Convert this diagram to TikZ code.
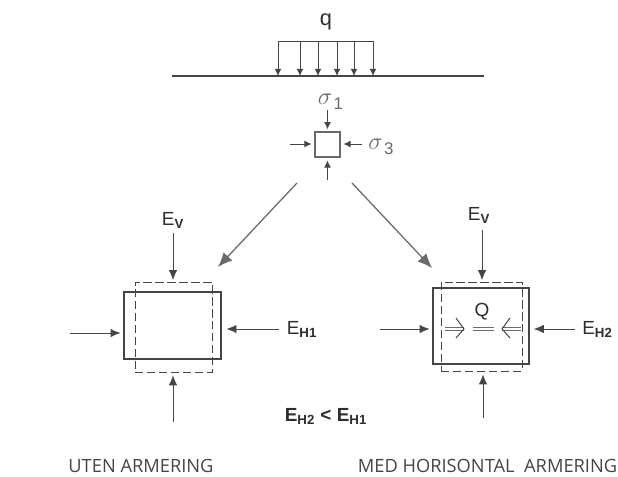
\documentclass[tikz,border=0pt]{standalone}
\usepackage{fontspec}
\setmainfont{Liberation Sans}
\newfontfamily\capfont{Open Sans}
\usetikzlibrary{arrows.meta,positioning}
\definecolor{LineGrey}{HTML}{454545}
\definecolor{ArrowGrey}{HTML}{6A6A6A}
\definecolor{TextGrey}{HTML}{2E2E2E}
\newcommand{\sigmalabel}[1]{$\sigma$\raisebox{-3.5pt}{\fontsize{12}{14}\selectfont\kern1pt #1}}
\newcommand{\elab}[1]{E\textsubscript{\bfseries #1}}
\begin{document}
\begin{tikzpicture}[
  x=0.025cm,y=-0.025cm,
  every node/.style={font=\small,align=center,text=TextGrey,inner sep=0pt},
  solidbox/.style={draw=LineGrey,line width=0.8pt,inner sep=0pt},
  dashbox/.style={draw=LineGrey,dashed,dash pattern=on 6pt off 2.5pt,line width=0.65pt,inner sep=0pt},
  arr/.style={-{Latex[length=2.5mm,width=2.1mm]},draw=LineGrey,line width=0.6pt},
  load/.style={-{Latex[length=1.8mm,width=1.7mm]},draw=LineGrey,line width=0.6pt},
  bigarr/.style={-{Latex[length=3.6mm,width=3mm]},draw=ArrowGrey,line width=0.9pt},
  elabel/.style={font=\fontsize{13.5}{15}\selectfont},
  caplabel/.style={font=\capfont\fontsize{13}{15}\selectfont,text=LineGrey},
  siglabel/.style={font=\fontsize{19}{21}\selectfont,text=ArrowGrey}
]
  \useasboundingbox (0,0) rectangle (618,476);

  % load on the surface
  \node[elabel,font=\fontsize{15.5}{17}\selectfont] (q) at (326,22) {q};
  \coordinate (surfL) at (172,76);
  \coordinate (surfR) at (484,76);
  \draw[LineGrey,line width=0.8pt] (surfL) -- (surfR);
  \coordinate (barL) at (278,41);
  \coordinate (barR) at (374,41);
  \draw[LineGrey,line width=0.6pt] (barL) -- (barR);
  \foreach \i/\xx in {a/278,b/300,c/318,d/337,e/354,f/373}{
    \coordinate (top\i) at (\xx,41);
    \coordinate (foot\i) at (\xx,76);
    \draw[load] (top\i) -- (foot\i);
  }

  % stress element
  \node[solidbox,draw=ArrowGrey,minimum width=25*0.025cm,minimum height=25*0.025cm] (elem) at (327.5,144.5) {};
  \node[siglabel] (sig1) at (330.5,101.5) {\sigmalabel{1}};
  \node[siglabel] (sig3) at (381,146.5) {\sigmalabel{3}};
  \coordinate (elemT) at (327.5,110);
  \coordinate (elemL) at (290,144);
  \coordinate (elemR) at (362,144);
  \coordinate (elemB) at (327.5,180);
  \draw[load,shorten >=1.5pt] (elemT) -- (elem.north);
  \draw[load,shorten >=2pt] (elemL) -- (elemL -| elem.west);
  \draw[load,shorten >=2pt] (elemR) -- (elemR -| elem.east);
  \draw[load,shorten >=2pt] (elemB) -- (elem.south);

  % case without reinforcement
  \node[dashbox,minimum width=77*0.025cm,minimum height=90*0.025cm] (dashA) at (173.5,327) {};
  \node[solidbox,minimum width=97*0.025cm,minimum height=67*0.025cm] (boxA) at (172.5,325.5) {};
  \node[elabel] (evA) at (173,220) {\elab{V}};
  \node[elabel] (ehA) at (302,329) {\elab{H1}};
  \coordinate (evAs) at (173,233);
  \coordinate (leftA) at (70,333);
  \coordinate (rightA) at (279,329);
  \coordinate (botA) at (173,422);
  \draw[arr,shorten >=1pt] (evAs) -- (evAs |- dashA.north);
  \draw[arr,shorten >=2pt] (leftA) -- (leftA -| boxA.west);
  \draw[arr,shorten >=3.5pt] (rightA) -- (rightA -| boxA.east);
  \draw[arr,shorten >=2pt] (botA) -- (botA |- dashA.south);

  % case with horizontal reinforcement
  \node[dashbox,minimum width=81*0.025cm,minimum height=89*0.025cm] (dashB) at (481.5,326.5) {};
  \node[solidbox,minimum width=96*0.025cm,minimum height=76*0.025cm] (boxB) at (481,326) {};
  \node[elabel] (evB) at (479,215) {\elab{V}};
  \node[elabel] (ehB) at (597.5,329) {\elab{H2}};
  \node[elabel] (Q) at (482,312) {Q};
  \coordinate (evBs) at (482,230);
  \coordinate (leftB) at (380,329);
  \coordinate (rightB) at (575,329);
  \coordinate (botB) at (483,418);
  \draw[arr,shorten >=1pt] (evBs) -- (evBs |- dashB.north);
  \draw[arr,shorten >=2pt] (leftB) -- (leftB -| boxB.west);
  \draw[arr,shorten >=3pt] (rightB) -- (rightB -| boxB.east);
  \draw[arr,shorten >=2pt] (botB) -- (botB |- dashB.south);

  % inner tie force
  \coordinate (tieL) at (445,329);
  \coordinate (tieR) at (521,329);
  \coordinate (headL) at (464,329);
  \coordinate (headR) at (502,329);
  \coordinate (midL) at (473,329);
  \coordinate (midR) at (494,329);
  \draw[ArrowGrey,line width=0.4pt,double,double distance=1.6pt] (tieL) -- (headL);
  \draw[ArrowGrey,line width=0.4pt,double,double distance=1.6pt] (tieR) -- (headR);
  \draw[ArrowGrey,line width=0.4pt,double,double distance=1.6pt] (midL) -- (midR);
  \draw[LineGrey,line width=0.7pt] (456,318) -- (headL) -- (456,338);
  \draw[LineGrey,line width=0.7pt] (510,318) -- (headR) -- (510,338);

  % the two flow arrows
  \coordinate (splitL) at (297,183);
  \coordinate (splitR) at (352,183);
  \coordinate (endL) at (218,267);
  \coordinate (endR) at (432,268);
  \draw[bigarr] (splitL) -- (endL);
  \draw[bigarr] (splitR) -- (endR);

  \node[elabel,font=\bfseries\fontsize{13.5}{15}\selectfont] (cmp) at (326,416) {E\textsubscript{H2} < E\textsubscript{H1}};
  \node[caplabel] (capA) at (141,466) {UTEN ARMERING};
  \node[caplabel] (capB) at (487.5,466) {MED HORISONTAL\ \ ARMERING};
\end{tikzpicture}
\end{document}
